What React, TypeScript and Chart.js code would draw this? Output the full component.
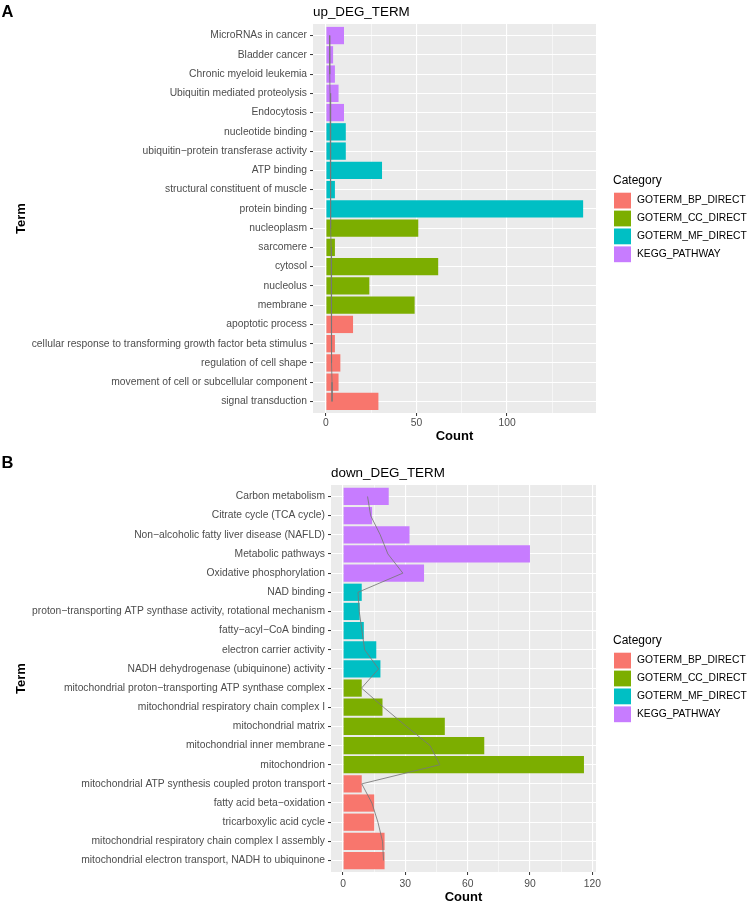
import React, { useEffect, useRef } from "react";
import { Chart, registerables } from "chart.js";

Chart.register(...registerables);

const FONT = '"Liberation Sans", Arial, Helvetica, sans-serif';

// ---------- shared legend ----------
const categoryNames = ["GOTERM_BP_DIRECT", "GOTERM_CC_DIRECT", "GOTERM_MF_DIRECT", "KEGG_PATHWAY"];
const categoryColors = ["#F8766D", "#7CAE00", "#00BFC4", "#C77CFF"];

// ---------- panel A data (top to bottom) ----------
const upTerms = [
  "MicroRNAs in cancer",
  "Bladder cancer",
  "Chronic myeloid leukemia",
  "Ubiquitin mediated proteolysis",
  "Endocytosis",
  "nucleotide binding",
  "ubiquitin\u2212protein transferase activity",
  "ATP binding",
  "structural constituent of muscle",
  "protein binding",
  "nucleoplasm",
  "sarcomere",
  "cytosol",
  "nucleolus",
  "membrane",
  "apoptotic process",
  "cellular response to transforming growth factor beta stimulus",
  "regulation of cell shape",
  "movement of cell or subcellular component",
  "signal transduction",
];
const upCounts = [10, 4, 5, 7, 10, 11, 11, 31, 5, 142, 51, 5, 62, 24, 49, 15, 5, 8, 7, 29];
const upCategories = [3, 3, 3, 3, 3, 2, 2, 2, 2, 2, 1, 1, 1, 1, 1, 0, 0, 0, 0, 0];
const upLine = [2.0, 2.1, 2.2, 2.3, 2.4, 2.5, 2.6, 2.6, 2.7, 2.8, 2.8, 2.9, 3.0, 3.0, 3.1, 3.2, 3.2, 3.3, 3.4, 3.4];
const upMajorTicks = [0, 50, 100];

// ---------- panel B data (top to bottom) ----------
const downTerms = [
  "Carbon metabolism",
  "Citrate cycle (TCA cycle)",
  "Non\u2212alcoholic fatty liver disease (NAFLD)",
  "Metabolic pathways",
  "Oxidative phosphorylation",
  "NAD binding",
  "proton\u2212transporting ATP synthase activity, rotational mechanism",
  "fatty\u2212acyl\u2212CoA binding",
  "electron carrier activity",
  "NADH dehydrogenase (ubiquinone) activity",
  "mitochondrial proton\u2212transporting ATP synthase complex",
  "mitochondrial respiratory chain complex I",
  "mitochondrial matrix",
  "mitochondrial inner membrane",
  "mitochondrion",
  "mitochondrial ATP synthesis coupled proton transport",
  "fatty acid beta\u2212oxidation",
  "tricarboxylic acid cycle",
  "mitochondrial respiratory chain complex I assembly",
  "mitochondrial electron transport, NADH to ubiquinone",
];
const downCounts = [22, 14, 32, 90, 39, 9, 8, 10, 16, 18, 9, 19, 49, 68, 116, 9, 15, 15, 20, 20];
const downCategories = [3, 3, 3, 3, 3, 2, 2, 2, 2, 2, 1, 1, 1, 1, 1, 0, 0, 0, 0, 0];
const downLine = [11.8, 13.3, 17.9, 21.6, 28.8, 7.2, 7.8, 9.1, 10.4, 17.1, 8.9, 19.5, 30.5, 41.9, 46.6, 9.0, 13.9, 16.8, 19.0, 19.5];
const downMajorTicks = [0, 30, 60, 90, 120];

type PanelCfg = {
  letter: string;
  title: string;
  terms: string[];
  counts: number[];
  cats: number[];
  line: number[];
  majors: number[];
  minorStep: number;
  top: number;
  height: number;
  plotTop: number;
  plotLeft: number;
  xAxisHeight: number;
  tickPad: number;
  countPad: number;
  letterBaseline: number;
};

const panelA: PanelCfg = {
  letter: "A",
  title: "up_DEG_TERM",
  terms: upTerms,
  counts: upCounts,
  cats: upCategories,
  line: upLine,
  majors: upMajorTicks,
  minorStep: 25,
  top: 0,
  height: 445,
  plotTop: 24,
  plotLeft: 313,
  xAxisHeight: 32,
  tickPad: 1,
  countPad: 0.5,
  letterBaseline: 17,
};

const panelB: PanelCfg = {
  letter: "B",
  title: "down_DEG_TERM",
  terms: downTerms,
  counts: downCounts,
  cats: downCategories,
  line: downLine,
  majors: downMajorTicks,
  minorStep: 15,
  top: 445,
  height: 462,
  plotTop: 40,
  plotLeft: 331,
  xAxisHeight: 35,
  tickPad: 2.8,
  countPad: 1.5,
  letterBaseline: 23.3,
};

function decorPlugin(p: PanelCfg) {
  return {
    id: "panelDecor",
    beforeDraw(chart: any) {
      const { ctx, chartArea: a } = chart;
      ctx.save();
      ctx.fillStyle = "#EBEBEB";
      ctx.fillRect(a.left, a.top, a.right - a.left, a.bottom - a.top);
      ctx.restore();
    },
    afterDraw(chart: any) {
      const { ctx, chartArea: a } = chart;
      ctx.save();
      ctx.fillStyle = "#000000";
      ctx.textAlign = "left";
      ctx.textBaseline = "alphabetic";
      ctx.font = `bold 16.5px ${FONT}`;
      ctx.fillText(p.letter, 1.5, p.letterBaseline);
      ctx.font = `13.4px ${FONT}`;
      ctx.fillText(p.title, a.left, a.top - 8.3);
      const cy = (a.top + a.bottom) / 2;
      ctx.font = `12px ${FONT}`;
      ctx.fillText("Category", 613, cy - 34.5);
      categoryNames.forEach((name, i) => {
        const y = cy - 25.8 + i * 17.9;
        ctx.fillStyle = categoryColors[i];
        ctx.fillRect(614, y, 17, 15.8);
        ctx.fillStyle = "#000000";
        ctx.font = `10.3px ${FONT}`;
        ctx.textBaseline = "middle";
        ctx.fillText(name, 637, y + 7.9);
      });
      ctx.restore();
    },
  };
}

function Panel({ cfg }: { cfg: PanelCfg }) {
  const ref = useRef<HTMLCanvasElement | null>(null);

  useEffect(() => {
    if (!ref.current) return;
    const maxCount = Math.max(...cfg.counts);
    const xMin = -maxCount * 0.05;
    const xMax = maxCount * 1.05;
    const isMajor = (v: number) => cfg.majors.includes(v);

    const chart = new Chart(ref.current, {
      type: "bar",
      data: {
        datasets: [
          {
            type: "line",
            data: cfg.line.map((v, i) => ({ x: v, y: i })),
            borderColor: "rgba(120,120,120,0.95)",
            borderWidth: 0.9,
            pointRadius: 0,
            tension: 0,
            fill: false,
            order: 0,
          } as any,
          {
            type: "bar",
            data: cfg.counts.map((v, i) => ({ x: v, y: i })),
            backgroundColor: cfg.cats.map((c) => categoryColors[c]),
            borderWidth: 0,
            barPercentage: 0.9,
            categoryPercentage: 1,
            order: 1,
          } as any,
        ],
      },
      options: {
        animation: false,
        responsive: false,
        maintainAspectRatio: false,
        indexAxis: "y",
        layout: { padding: { left: 0, right: 157, top: cfg.plotTop, bottom: 0 } },
        plugins: {
          legend: { display: false },
          tooltip: { enabled: false },
          title: { display: false },
        },
        scales: {
          x: {
            type: "linear",
            position: "bottom",
            min: xMin,
            max: xMax,
            offset: false,
            afterFit: (s: any) => {
              s.height = cfg.xAxisHeight;
            },
            grid: {
              offset: false,
              color: "#FFFFFF",
              lineWidth: (c: any) => (c.tick && isMajor(c.tick.value) ? 1.1 : 0.55),
              drawTicks: true,
              tickLength: 3,
              tickWidth: 1,
              tickColor: (c: any) => (c.tick && isMajor(c.tick.value) ? "#333333" : "rgba(0,0,0,0)"),
            },
            border: { display: false },
            ticks: {
              stepSize: cfg.minorStep,
              includeBounds: false,
              autoSkip: false,
              maxRotation: 0,
              color: "#4D4D4D",
              font: { family: FONT, size: 10.3 },
              padding: cfg.tickPad,
              callback: (v: any) => (isMajor(Number(v)) ? String(v) : ""),
            },
            title: {
              display: true,
              text: "Count",
              color: "#000000",
              font: { family: FONT, size: 13, weight: "bold" },
              padding: { top: 0, bottom: cfg.countPad },
            },
          },
          y: {
            type: "linear",
            position: "left",
            min: -0.6,
            max: cfg.terms.length - 0.4,
            reverse: true,
            offset: false,
            afterFit: (s: any) => {
              s.width = cfg.plotLeft;
            },
            grid: {
              offset: false,
              color: "#FFFFFF",
              lineWidth: 1.1,
              drawTicks: true,
              tickLength: 3,
              tickWidth: 1,
              tickColor: "#333333",
            },
            border: { display: false },
            ticks: {
              stepSize: 1,
              includeBounds: false,
              autoSkip: false,
              color: "#4D4D4D",
              font: { family: FONT, size: 10.3 },
              padding: 3,
              callback: (v: any) => cfg.terms[Number(v)] ?? "",
            },
            title: {
              display: true,
              text: "Term",
              color: "#000000",
              font: { family: FONT, size: 13, weight: "bold" },
              padding: { top: 13.5, bottom: 0 },
            },
          },
        },
      } as any,
      plugins: [decorPlugin(cfg) as any],
    });
    return () => chart.destroy();
  }, [cfg]);

  return (
    <canvas
      ref={ref}
      width={753}
      height={cfg.height}
      style={{ position: "absolute", left: 0, top: cfg.top, width: 753, height: cfg.height }}
    />
  );
}

export default function App() {
  return (
    <div style={{ position: "absolute", left: 0, top: 0, width: 753, height: 907, background: "#FFFFFF" }}>
      <Panel cfg={panelA} />
      <Panel cfg={panelB} />
    </div>
  );
}
